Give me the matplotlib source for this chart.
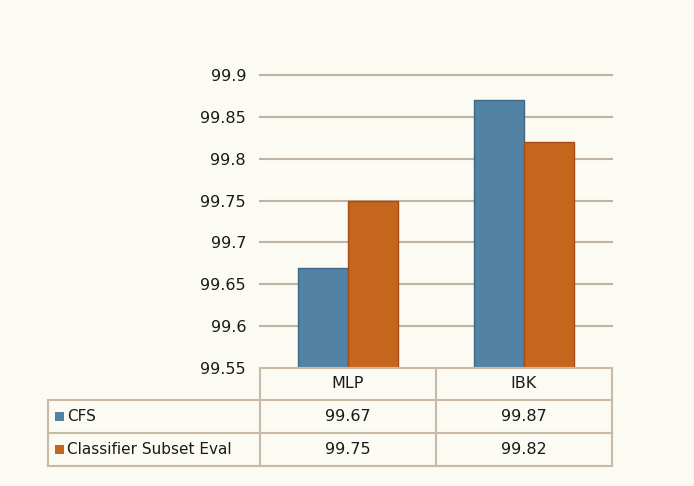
import matplotlib
matplotlib.use("Agg")
import matplotlib.pyplot as plt
from matplotlib.lines import Line2D
from matplotlib.patches import Rectangle
import numpy as np

categories = ["MLP", "IBK"]
series_names = ["CFS", "Classifier Subset Eval"]
cfs = [99.67, 99.87]
cse = [99.75, 99.82]
yticks = [99.55, 99.6, 99.65, 99.7, 99.75, 99.8, 99.85, 99.9]
ytick_labels = ["99.55", "99.6", "99.65", "99.7", "99.75", "99.8", "99.85", "99.9"]

W, H = 694, 486
bg = "#fbfaf3"
blue = "#5283a4"
blue_edge = "#3b6886"
orange = "#c6661d"
orange_edge = "#a64d17"
grid_c = "#bfb3a2"
table_c = "#c8baa4"
text_c = "#1a1a1a"

fig = plt.figure(figsize=(W / 100, H / 100), dpi=100, facecolor=bg)

def fx(px):
    return px / W

def fy(py):
    return 1 - py / H

ax_l, ax_r, ax_t, ax_b = 260, 612, 75, 368
ax = fig.add_axes([fx(ax_l), fy(ax_b), fx(ax_r) - fx(ax_l), fy(ax_t) - fy(ax_b)])
ax.set_facecolor(bg)
ax.set_ylim(99.55, 99.9)
ax.set_xlim(0, 2)
for s in ax.spines.values():
    s.set_visible(False)
ax.set_yticks(yticks)
ax.set_yticklabels(ytick_labels, fontsize=11.5, color=text_c)
ax.tick_params(axis="y", length=0, pad=10)
ax.set_xticks([])
for t in yticks[1:]:
    ax.axhline(t, color=grid_c, lw=1.5, zorder=0, clip_on=False)

x = np.arange(len(categories)) + 0.5
bw = 50 / 176
ax.bar(x - bw / 2, np.array(cfs) - 99.55, bottom=99.55, width=bw,
       color=blue, edgecolor=blue_edge, linewidth=1, zorder=2)
ax.bar(x + bw / 2, np.array(cse) - 99.55, bottom=99.55, width=bw,
       color=orange, edgecolor=orange_edge, linewidth=1, zorder=2)

# data table
tl, c1, c2, tr = 48, 260, 436, 612
r0, r1, r2, r3 = 368, 400, 433, 466

def line(x0, y0, x1, y1):
    fig.add_artist(Line2D([fx(x0), fx(x1)], [fy(y0), fy(y1)], color=table_c, lw=1.5))

line(c1, r0, tr, r0)
for yy in (r1, r2, r3):
    line(tl, yy, tr, yy)
line(tl, r1, tl, r3)
for xx in (c1, c2, tr):
    line(xx, r0, xx, r3)

col_centers = [(c1 + c2) / 2, (c2 + tr) / 2]
for cx, cat in zip(col_centers, categories):
    fig.text(fx(cx), fy((r0 + r1) / 2), cat, ha="center", va="center",
             fontsize=11.5, color=text_c)

rows = [(r1, r2), (r2, r3)]
vals = [cfs, cse]
colors = [blue, orange]
for (ya, yb), name, v, c in zip(rows, series_names, vals, colors):
    yc = (ya + yb) / 2
    sq = 9
    fig.add_artist(Rectangle((fx(55), fy(yc + sq / 2)), fx(sq), sq / H,
                             facecolor=c, edgecolor="none"))
    fig.text(fx(67), fy(yc), name, ha="left", va="center", fontsize=11, color=text_c)
    for cx, val in zip(col_centers, v):
        fig.text(fx(cx), fy(yc), f"{val:.2f}", ha="center", va="center",
                 fontsize=11.5, color=text_c)

fig.savefig("out.png", dpi=100, facecolor=bg)
